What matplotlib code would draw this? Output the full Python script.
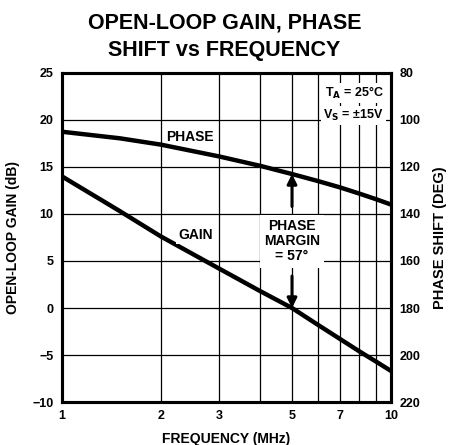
import matplotlib
matplotlib.use("Agg")
import matplotlib.pyplot as plt
import numpy as np

plt.rcParams["font.family"] = ["Liberation Sans", "DejaVu Sans"]
plt.rcParams["font.weight"] = "bold"

# data
freq_mhz = [1, 1.5, 2, 3, 4, 5, 6, 7, 8, 9, 10]
gain_db = [14.0, 10.3, 7.6, 4.2, 1.8, 0.0, -1.8, -3.3, -4.6, -5.7, -6.7]
phase_deg = [105.0, 107.8, 110.5, 115.5, 119.5, 123.0, 126.0, 128.7, 131.3, 133.7, 136.0]

x_ticks = [1, 2, 3, 5, 7, 10]
gain_ticks = [-10, -5, 0, 5, 10, 15, 20, 25]
phase_ticks = [80, 100, 120, 140, 160, 180, 200, 220]

fig = plt.figure(figsize=(4.49, 4.45), dpi=100)
ax = fig.add_axes([0.138, 0.0966, 0.733, 0.7394])
ax2 = ax.twinx()

ax.set_xscale("log")
ax.set_xlim(1, 10)
ax.set_ylim(-10, 25)
ax2.set_ylim(220, 80)

# grid
for f in range(2, 10):
    ax.axvline(f, color="black", lw=0.9, zorder=1)
for g in gain_ticks[1:-1]:
    ax.axhline(g, color="black", lw=0.9, zorder=1)

ax.plot(freq_mhz, gain_db, color="black", lw=3.2, solid_capstyle="butt", zorder=3)
ax2.plot(freq_mhz, phase_deg, color="black", lw=3.2, solid_capstyle="butt", zorder=3)

ax.set_xticks(x_ticks)
ax.set_xticklabels([str(t) for t in x_ticks])
ax.xaxis.set_minor_locator(matplotlib.ticker.NullLocator())
ax.set_yticks(gain_ticks)
ax.set_yticklabels([str(t).replace("-", "\u2212") for t in gain_ticks])
ax2.set_yticks(phase_ticks)

for a in (ax, ax2):
    a.tick_params(length=0, labelsize=9, pad=6)
    for s in a.spines.values():
        s.set_linewidth(2.2)

ax.set_xlabel("FREQUENCY (MHz)", fontsize=10, fontweight="bold", labelpad=7)
ax.set_ylabel("OPEN-LOOP GAIN (dB)", fontsize=10, fontweight="bold", labelpad=9)
ax2.set_ylabel("PHASE SHIFT (DEG)", fontsize=10.5, fontweight="bold", labelpad=9)

fig.suptitle("OPEN-LOOP GAIN, PHASE\nSHIFT vs FREQUENCY", fontsize=15.5,
             fontweight="bold", y=0.972, linespacing=1.4)

box = dict(facecolor="white", edgecolor="none", pad=1.5)
ax.text(2.45, 18.2, "PHASE", fontsize=10, ha="center", va="center", bbox=box, zorder=4)
ax.text(2.55, 7.8, "GAIN", fontsize=10, ha="center", va="center", bbox=box, zorder=4)
ax.text(5.0, 7.1, "PHASE\nMARGIN\n= 57\u00b0", fontsize=10, ha="center", va="center",
        linespacing=1.1, bbox=dict(facecolor="white", edgecolor="none", pad=3), zorder=4)
ax.text(9.5, 22.9, "T$_\\mathbf{A}$ = 25\u00b0C", fontsize=9, ha="right", va="center",
        bbox=box, zorder=4)
ax.text(9.5, 20.5, "V$_\\mathbf{S}$ = \u00b115V", fontsize=9, ha="right", va="center",
        bbox=box, zorder=4)

# phase margin arrows
arrow = dict(arrowstyle="-|>", color="black", lw=2.2, mutation_scale=14, shrinkA=0, shrinkB=0)
phase_at_5 = 25 - (phase_deg[5] - 80) / 140 * 35
ax.annotate("", xy=(5, phase_at_5), xytext=(5, 10.8), arrowprops=arrow, zorder=5)
ax.annotate("", xy=(5, 0), xytext=(5, 3.4), arrowprops=arrow, zorder=5)

fig.savefig("out.png", dpi=100)
